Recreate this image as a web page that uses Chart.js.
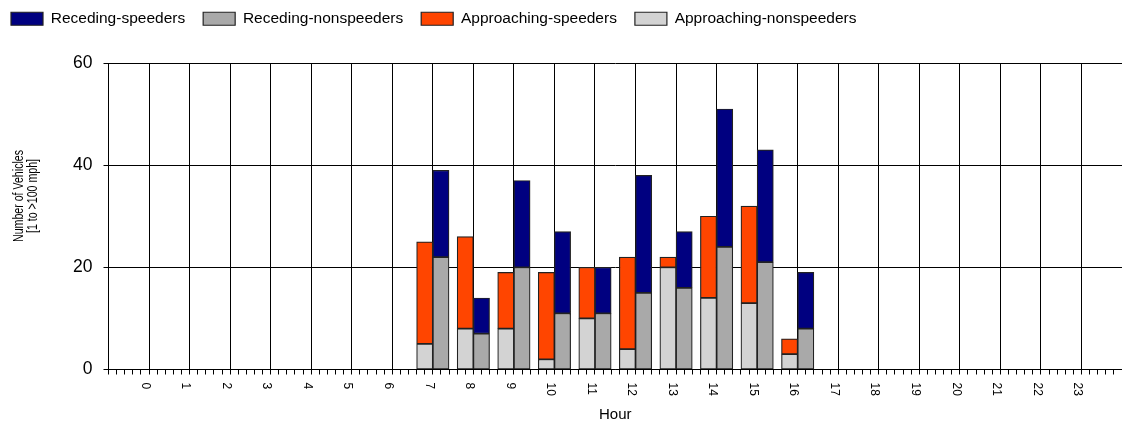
<!DOCTYPE html>
<html>
<head>
<meta charset="utf-8">
<script src="https://cdn.jsdelivr.net/npm/chart.js@4.4.1/dist/chart.umd.min.js"></script>
<style>
  html,body{margin:0;padding:0;background:#fff;}
  #wrap{width:1122px;height:426px;}
</style>
</head>
<body>
<div id="wrap"><canvas id="chart" width="1122" height="426"></canvas></div>
<script>
// --- data ---
const hours          = [7, 8, 9, 10, 11, 12, 13, 14, 15, 16];
const approachingNon = [5, 8, 8, 2, 10, 4, 20, 14, 13, 3];
const approachingSpd = [20, 18, 11, 17, 10, 18, 2, 16, 19, 3];
const recedingNon    = [22, 7, 20, 11, 11, 15, 16, 24, 21, 8];
const recedingSpd    = [17, 7, 17, 16, 9, 23, 11, 27, 22, 11];
const hourLabels     = ['0','1','2','3','4','5','6','7','8','9','10','11','12','13','14','15','16','17','18','19','20','21','22','23'];
const yTicks         = [0, 20, 40, 60];
const xTitle = 'Hour';
const yTitle = ['Number of Vehicles', '[1 to >100 mph]'];

const FONT = '"Liberation Sans", Arial, sans-serif';
const EDGE = '#222';

const pts = arr => hours.map((h,i)=>({x:h, y:arr[i]}));
const isHour = v => Math.abs(v-Math.round(v))<1e-6 && v>=0 && v<=hourLabels.length-1;

function ds(label, data, color, stack){
  return { label, data: pts(data), backgroundColor: color, borderColor: EDGE, borderWidth: 1.2,
           borderSkipped: false, stack, barThickness: 16.2 };
}

// legend sits high and tight, plot starts at y=63
const legendHeight = {
  id: 'legendHeight',
  beforeInit(chart){
    const fit = chart.legend.fit;
    chart.legend.fit = function(){ fit.bind(chart.legend)(); this.height = 70; };
  }
};

// rotated hour labels + axis titles, drawn like the original
const axisText = {
  id: 'axisText',
  afterDraw(chart){
    const {ctx, chartArea:a, scales:{x}} = chart;
    ctx.save();
    ctx.fillStyle = '#000';
    ctx.font = `12px ${FONT}`;
    ctx.textAlign = 'left';
    ctx.textBaseline = 'middle';
    hourLabels.forEach((t,i)=>{
      ctx.save();
      ctx.translate(x.getPixelForValue(i)-4, a.bottom+13);
      ctx.rotate(Math.PI/2);
      ctx.fillText(t,0,0);
      ctx.restore();
    });
    ctx.font = `15px ${FONT}`;
    ctx.textAlign = 'center';
    ctx.fillText(xTitle, (a.left+a.right)/2, 415);
    ctx.font = `14px ${FONT}`;
    const s = 92 / ctx.measureText(yTitle[0]).width;
    yTitle.forEach((t,i)=>{
      ctx.save();
      ctx.translate(19 + i*13.7, 196);
      ctx.rotate(-Math.PI/2);
      ctx.scale(s,1);
      ctx.fillText(t,0,0);
      ctx.restore();
    });
    ctx.restore();
  }
};

new Chart(document.getElementById('chart').getContext('2d'), {
  type: 'bar',
  data: {
    datasets: [
      ds('Approaching-nonspeeders', approachingNon, '#D3D3D3', 'a'),
      ds('Approaching-speeders',    approachingSpd, '#FF4500', 'a'),
      ds('Receding-nonspeeders',    recedingNon,    '#A9A9A9', 'r'),
      ds('Receding-speeders',       recedingSpd,    '#000080', 'r')
    ]
  },
  options: {
    responsive: false,
    animation: false,
    devicePixelRatio: 1,
    layout: { padding: { left: -7, top: -7, right: 0, bottom: 0 } },
    plugins: {
      legend: {
        position: 'top',
        align: 'start',
        reverse: true,
        labels: { boxWidth: 32, boxHeight: 13, padding: 18, color: '#000', font: { family: FONT, size: 15.5 } }
      },
      tooltip: { enabled: false }
    },
    scales: {
      x: {
        type: 'linear',
        stacked: true,
        offset: false,
        min: -1, max: 24,
        grid: {
          offset: false,
          color: c => isHour(c.tick.value) ? '#000' : 'rgba(0,0,0,0)',
          tickColor: '#000',
          tickLength: 5,
          lineWidth: 1
        },
        border: { display: true, color: '#000' },
        ticks: { stepSize: 0.2, autoSkip: false, maxRotation: 0, padding: 0, callback: () => '' },
        afterFit: s => { s.height = 56.5; }
      },
      y: {
        stacked: true,
        min: yTicks[0], max: yTicks[yTicks.length-1],
        afterBuildTicks: s => { s.ticks = yTicks.map(v=>({value:v})); },
        grid: { color: '#000', tickColor: '#000', tickLength: 5 },
        border: { display: true, color: '#000' },
        ticks: { color: '#000', padding: 11, font: { family: FONT, size: 17.5 } },
        afterFit: s => { s.width = 115.5; }
      }
    }
  },
  plugins: [legendHeight, axisText]
});
</script>
</body>
</html>
